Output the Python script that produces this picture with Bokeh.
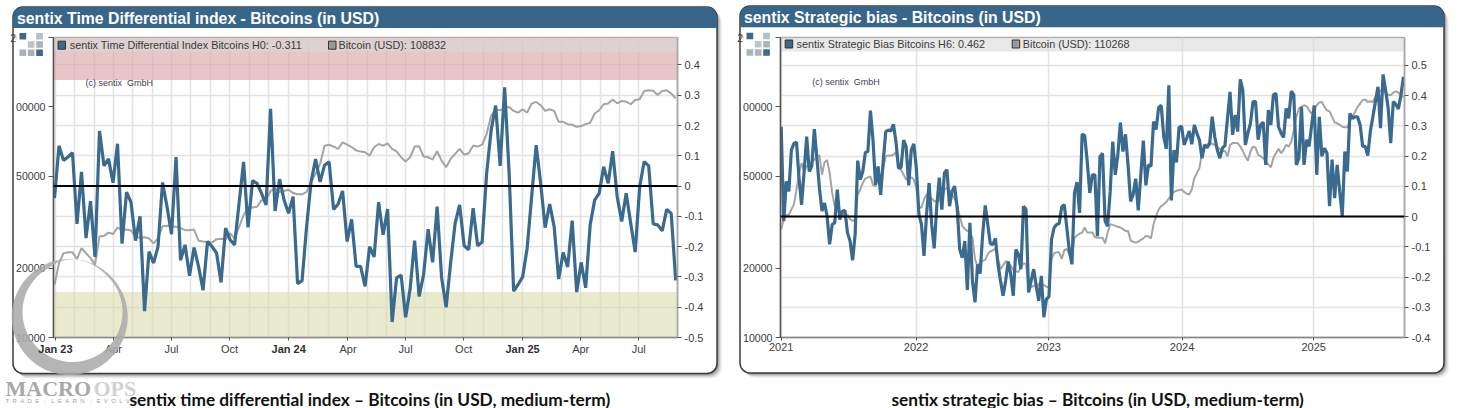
import numpy as np
from bokeh.embed import file_html
from bokeh.layouts import column, row
from bokeh.models import (BoxAnnotation, FixedTicker, Label, LogAxis, LogScale,
                          PolyAnnotation, Range1d, Span)
from bokeh.plotting import figure
from bokeh.resources import INLINE

# ---- left chart: sentix time differential index (weekly) ----
td_index = [-0.04,0.133,0.085,0.096,0.11,-0.125,0.047,-0.172,-0.05,-0.234,0.182,0.067,0.09,0.011,0.14,-0.19,-0.02,-0.054,-0.18,-0.10,
 -0.413,-0.216,-0.254,-0.2,0.012,-0.068,-0.159,0.096,-0.245,-0.194,-0.296,-0.203,-0.265,-0.344,-0.183,-0.2,-0.221,-0.318,-0.139,-0.177,
 -0.194,-0.057,0.08,-0.136,0.018,0.009,-0.024,-0.062,0.255,-0.082,0.023,-0.046,-0.09,-0.035,-0.322,-0.312,-0.134,0.014,0.089,0.014,
 0.069,0.08,-0.077,-0.059,-0.016,-0.183,-0.11,-0.265,-0.265,-0.331,-0.2,-0.234,-0.053,-0.161,-0.076,-0.449,-0.303,-0.294,-0.433,-0.34,
 -0.18,-0.364,-0.292,-0.142,-0.252,-0.068,-0.303,-0.4,-0.254,-0.123,-0.062,-0.197,-0.21,-0.073,-0.197,-0.185,0.042,0.184,0.266,0.067,
 0.326,0.042,-0.347,-0.325,-0.3,-0.205,-0.035,0.135,0.009,-0.137,-0.059,-0.134,-0.307,-0.219,-0.267,-0.114,-0.35,-0.252,-0.336,-0.128,
 -0.046,-0.024,0.064,0.009,0.115,-0.035,-0.117,-0.024,-0.123,-0.218,-0.002,0.081,0.067,-0.125,-0.128,-0.148,-0.077,-0.09,-0.311]
td_btc = [16950,21000,23200,23400,23400,21900,24400,23200,22100,20700,27400,27600,28500,28100,30000,29200,29400,29100,27400,27000,
 27200,26900,25600,26900,30400,30500,30400,30200,29800,29200,29200,29400,26300,26100,26000,25800,26700,26800,26700,28300,
 26900,30200,33900,36600,36600,36900,39400,39400,43200,44200,42800,43200,43700,42300,41800,41800,42800,47200,51300,56600,
 67900,68600,67200,65700,70200,68600,67000,64800,64000,63600,61500,66800,69100,67900,69500,65700,64200,60500,58000,60500,
 67300,67500,60900,60500,59100,64200,58500,54800,59500,62600,65700,62100,63000,67900,67300,68600,76300,91500,97100,96700,
 99300,100000,96100,94500,97700,94500,103400,105100,101700,96100,97700,96100,86200,86200,84200,83700,82000,82600,84200,85300,
 93600,96700,102700,103400,107600,103700,106100,105400,102700,107200,107900,117200,118000,117600,112600,117200,118000,114500,108832]
td_tick_weeks = [0.15,13.1,26.0,38.9,52.0,65.2,78.0,90.9,104.0,116.9,129.8]
td_tick_labels = ["Jan 23","Apr","Jul","Oct","Jan 24","Apr","Jul","Oct","Jan 25","Apr","Jul"]

# ---- right chart: sentix strategic bias (weekly) ----
sb_index = [0.297,-0.015,0.116,0.083,0.22,0.242,0.246,0.127,0.039,0.149,0.264,0.149,0.166,0.289,0.193,0.094,0.018,0.045,0.001,-0.092,
 -0.026,-0.021,0.089,-0.01,0.018,0.02,-0.054,-0.081,-0.145,-0.059,0.185,0.122,0.149,0.212,0.215,0.35,0.253,0.105,0.166,0.072,
 0.182,0.281,0.286,0.283,0.305,0.248,0.16,0.162,0.253,0.231,0.103,0.22,0.24,0.16,0.007,-0.026,-0.13,0.007,0.111,-0.026,
 -0.105,0.034,0.129,0.023,0.144,0.155,0.034,0.083,0.1,0.029,-0.109,-0.136,-0.081,-0.243,-0.021,-0.213,-0.284,-0.158,-0.189,-0.059,
 0.037,-0.026,-0.09,-0.092,-0.072,-0.158,-0.213,-0.262,-0.213,-0.149,-0.191,-0.262,-0.109,-0.125,-0.174,0.034,0.023,-0.251,-0.213,-0.174,
 -0.229,-0.279,-0.196,-0.333,-0.273,-0.265,-0.076,-0.037,-0.026,-0.023,0.032,0.039,-0.037,-0.114,-0.158,0.078,0.114,0.012,0.272,0.268,
 0.182,0.078,0.138,0.138,-0.065,0.198,0.209,-0.015,-0.032,0.083,0.248,0.138,0.204,0.311,0.215,0.272,0.171,0.05,0.072,0.125,
 0.02,0.138,0.251,0.103,0.171,0.166,0.314,0.288,0.36,0.368,0.264,0.224,0.434,0.053,0.22,0.179,0.295,0.299,0.237,0.259,
 0.283,0.239,0.303,0.275,0.253,0.193,0.237,0.228,0.242,0.33,0.264,0.22,0.193,0.226,0.235,0.325,0.412,0.27,0.336,0.281,
 0.454,0.418,0.237,0.276,0.308,0.38,0.38,0.254,0.303,0.312,0.171,0.352,0.303,0.402,0.407,0.297,0.276,0.262,0.358,0.325,
 0.415,0.402,0.171,0.193,0.363,0.171,0.254,0.232,0.303,0.367,0.138,0.33,0.199,0.226,0.21,0.034,0.188,0.061,0.171,0.083,
 0.001,0.215,0.149,0.341,0.325,0.33,0.33,0.303,0.232,0.232,0.202,0.281,0.33,0.38,0.429,0.292,0.47,0.418,0.358,0.243,
 0.38,0.371,0.356,0.402,0.462]
sb_btc = [29500,32500,34000,34000,35900,37800,43800,51700,57100,52500,55200,56500,57600,59000,61000,61600,50800,57600,58800,51700,
 42400,37100,35900,34800,34000,34000,34200,32500,32000,32500,41700,43800,46800,48900,49500,50000,45800,45300,48900,44500,
 54300,61000,61600,61400,62000,63700,54600,53400,50800,48400,48900,49500,48400,44500,37100,36500,39700,41700,40600,40100,
 39000,39000,39700,39000,43800,44500,43500,41700,40100,37500,33600,30500,29500,29000,28500,27100,21900,20200,21200,21500,
 21700,23000,23600,23900,24200,21900,19800,20500,21400,21200,20500,19600,19400,19200,20200,21000,20800,16500,16500,16800,
 16500,17100,17000,16900,16600,16500,21900,23200,23400,23400,21900,23900,24200,23000,22300,27100,27700,28200,28500,30000,
 28500,28500,28500,27300,27100,27100,27100,25600,28500,31000,30800,30500,30200,30000,29500,29000,29000,26400,26000,25800,
 26000,26500,26900,27600,27400,26900,31000,33600,35900,37100,37800,38700,40100,41400,42800,43300,43600,43800,42800,42000,
 41700,43800,49200,51700,54300,63700,67300,68500,70000,69000,68500,66600,65800,64100,64500,61000,68500,69700,69700,69700,
 67300,64500,61000,58400,64100,67300,66600,62000,61000,60000,57700,56400,54700,60000,63000,65800,63000,65100,68500,67300,
 70700,79300,90500,98400,100000,101700,100600,96700,93600,96700,101700,104500,105100,100000,96700,95700,90500,85700,84900,83700,
 82100,81600,81600,87300,90500,95100,100000,103400,106900,107600,105100,105800,105100,110500,115300,118000,116800,115300,113000,112300,
 115300,116800,115300,112300,110268]
sb_tick_weeks = [0,52.9,104.9,157.2,208.8]
sb_tick_labels = ["2021","2022","2023","2024","2025"]

BLUE = "#3a6a8e"
GREY = "#a4a4a4"
AXIS_FONT = "Liberation Sans"
W, H = 1459, 408


def layer(**kw):
    p = figure(width=W, height=H, x_range=Range1d(0, W), y_range=Range1d(H, 0), output_backend="svg",
               toolbar_location=None, tools="", x_axis_location=None, y_axis_location=None,
               min_border=0, **kw)
    p.grid.visible = False
    p.outline_line_color = None
    p.background_fill_color = None
    p.border_fill_color = None
    return p


bg = layer()
top = layer(margin=(-H, 0, 0, 0))


def box(p, l, r, t, b, **kw):
    kw.setdefault("fill_alpha", 1)
    kw.setdefault("line_alpha", 0)
    p.add_layout(BoxAnnotation(left=l, right=r, top=t, bottom=b, left_units="canvas", right_units="canvas",
                               top_units="canvas", bottom_units="canvas", editable=False, **kw))


def txt(p, x, y, s, **kw):
    kw.setdefault("text_font", AXIS_FONT)
    kw.setdefault("text_baseline", "middle")
    p.add_layout(Label(x=x, y=y, x_units="canvas", y_units="canvas", text=s, **kw))


def panel(pl, pr, pt, pb, bar, title):
    for off, al in ((5, .05), (4, .07), (3, .10), (2, .14), (1, .18)):
        box(bg, pl + off, pr + off, pt + off, pb + off, fill_color="black", fill_alpha=al, border_radius=10)
    box(bg, pl, pr, pt, pb, fill_color="white", line_color="#3c3c3c", line_alpha=1, line_width=1.5, border_radius=10)
    box(bg, pl, pr, pt, bar, fill_color="#38658a",
        border_radius=dict(top_left=10, top_right=10, bottom_right=0, bottom_left=0))
    txt(bg, pl + 4, (pt + bar) / 2 + .5, title, text_color="white", text_font_size="15.8px", text_font_style="bold")


def chart(width, borders, xr, yr, idx, btc, ticks, labels, grid_weeks, bands, strip_top, right_ticks):
    left, right, t, b = borders
    p = figure(width=width, height=H, x_range=Range1d(*xr), y_range=Range1d(*yr),
               output_backend="svg", toolbar_location=None, tools="", title=None,
               x_axis_location="below", y_axis_location="right",
               min_border_left=left, min_border_right=right, min_border_top=t, min_border_bottom=b)
    p.background_fill_color = None
    p.border_fill_color = None
    p.outline_line_color = "#a8a8a8"
    p.outline_line_width = 1.5
    p.extra_y_ranges = {"price": Range1d(10000, 200000)}
    p.extra_y_scales = {"price": LogScale()}

    xa = p.xaxis[0]
    xa.ticker = FixedTicker(ticks=ticks)
    xa.major_label_overrides = {k: ("" if l.startswith("Jan") else l) for k, l in zip(ticks, labels)}
    xa.major_label_text_font = AXIS_FONT
    xa.major_label_text_font_size = "11px"
    xa.major_label_text_color = "#404040"
    xa.axis_line_color = "#8a8a8a"
    xa.axis_line_width = 1.5
    xa.major_tick_line_color = "#555555"
    xa.major_tick_in = 0
    xa.major_tick_out = 3
    xa.minor_tick_line_color = None
    xa.major_label_standoff = 2

    ya = p.yaxis[0]
    ya.ticker = FixedTicker(ticks=right_ticks)
    ya.major_label_overrides = {k: ("0" if k == 0 else f"{k:.1f}") for k in right_ticks}
    ya.major_label_text_font = AXIS_FONT
    ya.major_label_text_font_size = "11px"
    ya.major_label_text_color = "#404040"
    ya.axis_line_color = "#a8a8a8"
    ya.axis_line_width = 1.5
    ya.major_tick_line_color = "#555555"
    ya.major_tick_in = 0
    ya.major_tick_out = 4
    ya.minor_tick_line_color = None
    ya.major_label_standoff = 3

    la = LogAxis(y_range_name="price", ticker=FixedTicker(ticks=[10000, 20000, 50000, 100000, 200000]),
                 major_label_overrides={10000: "10000", 20000: "20000", 50000: "50000", 100000: "00000", 200000: "200000"},
                 major_label_text_font=AXIS_FONT, major_label_text_font_size="10.6px", major_label_text_color="#404040",
                 axis_line_color="#555555", axis_line_width=1.5, major_tick_line_color="#555555",
                 major_tick_in=0, major_tick_out=5, minor_tick_line_color=None, major_label_standoff=3)
    p.add_layout(la, "left")

    p.xgrid[0].ticker = FixedTicker(ticks=grid_weeks)
    p.xgrid[0].grid_line_color = "#e3e3e3"
    p.xgrid[0].grid_line_width = 1.5
    p.ygrid[0].ticker = FixedTicker(ticks=right_ticks)
    p.ygrid[0].grid_line_color = "#e3e3e3"
    p.ygrid[0].grid_line_width = 1.5

    for lo, hi, col, al in bands:
        p.quad(left=xr[0], right=xr[1], bottom=lo, top=hi, fill_color=col, fill_alpha=al, line_color=None)
    p.quad(left=xr[0], right=xr[1], bottom=strip_top, top=yr[1], fill_color="#d8d8d8", fill_alpha=.6, line_color=None)

    w = np.arange(len(idx), dtype=float)
    p.line(w, btc, y_range_name="price", line_color=GREY, line_width=2)
    p.line(w, idx, line_color=BLUE, line_width=3.2)
    p.add_layout(Span(location=0, dimension="width", line_color="black", line_width=2))
    return p


# ---- panels (background layer) ----
panel(12.5, 716.5, 6.5, 373, 27.5, "sentix Time Differential index - Bitcoins (in USD)")
panel(739.5, 1443.5, 5.5, 372.5, 26.8, "sentix Strategic bias - Bitcoins (in USD)")

# ---- left ----
td_grid = np.interp(np.arange(0, 33), np.arange(0, 11) * 3, td_tick_weeks).tolist()
p1 = chart(730, (53, 53, 37, 70), (-0.222, 138.4), (-0.5, 0.4907), td_index, td_btc, td_tick_weeks, td_tick_labels,
           td_grid, [(0.35, 0.4907, "#d9a8a8", .65), (-0.5, -0.35, "#dcdcb0", .62)], 0.444,
           [-0.5, -0.4, -0.3, -0.2, -0.1, 0, 0.1, 0.2, 0.3, 0.4])

# ---- right ----
p2 = chart(729, (50, 55, 36, 71), (-0.27, 244.4), (-0.4, 0.5921), sb_index, sb_btc, sb_tick_weeks, sb_tick_labels,
           list(sb_tick_weeks), [], 0.5455,
           [-0.4, -0.3, -0.2, -0.1, 0, 0.1, 0.2, 0.3, 0.4, 0.5])


# ---- legends ----
def legend(m1, t1, s1, m2, t2, s2, y, cx, cy):
    box(top, m1, m1 + 7.5, y - 4, y + 4, fill_color=BLUE, line_color="#333333", line_alpha=1, line_width=1)
    txt(top, t1, y, s1, text_color="#3a3a3a", text_font_size="10.8px")
    box(top, m2, m2 + 7.5, y - 4, y + 4, fill_color="#9a9a9a", line_color="#333333", line_alpha=1, line_width=1)
    txt(top, t2, y, s2, text_color="#3a3a3a", text_font_size="10.8px")
    txt(top, cx, cy, "(c) sentix\u00a0\u00a0GmbH", text_color="#4a3a5a", text_font_size="9px")


legend(57.5, 69.3, "sentix Time Differential Index Bitcoins H0: -0.311", 328, 338, "Bitcoin (USD): 108832", 44.7, 85, 82.5)
legend(784.7, 796, "sentix Strategic Bias Bitcoins H6: 0.462", 1011.7, 1022.3, "Bitcoin (USD): 110268", 43.5, 811.7, 81.7)


# ---- logos ----
def logo(dx, dy):
    box(top, 15.8 + dx, 45 + dx, 31 + dy, 57 + dy, fill_color="white")
    for cx, cy, col in ((19, 32.5, BLUE), (35.7, 32.5, "#b5bfc6"), (27.3, 40.7, "#b9c3ca"), (35.7, 40.7, "#a8b4bc"),
                        (19, 49, "#a8b4bc"), (27.3, 49, "#a8b4bc"), (35.7, 49, BLUE)):
        box(top, cx + dx, cx + 6.7 + dx, cy + dy, cy + 6.5 + dy, fill_color=col)


logo(0, 0)
logo(727, -0.3)

# ---- brush ring and watermark ----
ang = np.radians(np.arange(11, 366, 4))
cx, cy, R = 69.2, 316.5, 58
ix, iy, r = 72.0, 311.5, 50.0
taper = np.clip(np.minimum(ang - ang[0], ang[-1] - ang) / np.radians(30), 0.15, 1)
ox = cx + R * np.sin(ang)
oy = cy - R * np.cos(ang)
nx = ix + r * np.sin(ang)
ny = iy - r * np.cos(ang)
nx = ox + (nx - ox) * taper
ny = oy + (ny - oy) * taper
top.add_layout(PolyAnnotation(xs=np.r_[ox, nx[::-1]].tolist(), ys=np.r_[oy, ny[::-1]].tolist(),
                              xs_units="canvas", ys_units="canvas", fill_color="#ababab", fill_alpha=.88,
                              line_color=None, editable=False))

# ---- bold January labels, above the ring ----
for k, l in zip(td_tick_weeks, td_tick_labels):
    if l.startswith("Jan"):
        txt(top, 54.3 + k * 4.498, 348, l, text_font_size="11px", text_font_style="bold", text_align="center",
            text_color="#303030")

txt(top, 5, 388, "MACRO", text_font="Liberation Serif", text_font_style="bold", text_font_size="22px", text_color="#a8a8a8")
txt(top, 93, 388, "OPS", text_font="Liberation Serif", text_font_style="bold", text_font_size="22px", text_color="#d2d2d2")
sp = "\u00a0"
tagline = (sp * 2).join("TRADE") + sp * 3 + "-" + sp * 3 + (sp * 2).join("LEARN") + sp * 3 + "-" + sp * 3 + (sp * 2).join("EVOLVE")
txt(top, 5, 400.5, tagline, text_font_size="6px", text_color="#a0a0a0")

# ---- captions ----
txt(top, 129, 398.5, "sentix time differential index \u2013 Bitcoins (in USD, medium-term)", text_font="Lato",
    text_font_style="bold", text_font_size="17.3px", text_color="#111111")
txt(top, 891, 398.5, "sentix strategic bias \u2013 Bitcoins (in USD, medium-term)", text_font="Lato",
    text_font_style="bold", text_font_size="17.3px", text_color="#111111")

plots = row(p1, p2, margin=(-H, 0, 0, 0), spacing=0)
layout = column(bg, plots, top, spacing=0)
open("out.html", "w").write(file_html(layout, INLINE))
